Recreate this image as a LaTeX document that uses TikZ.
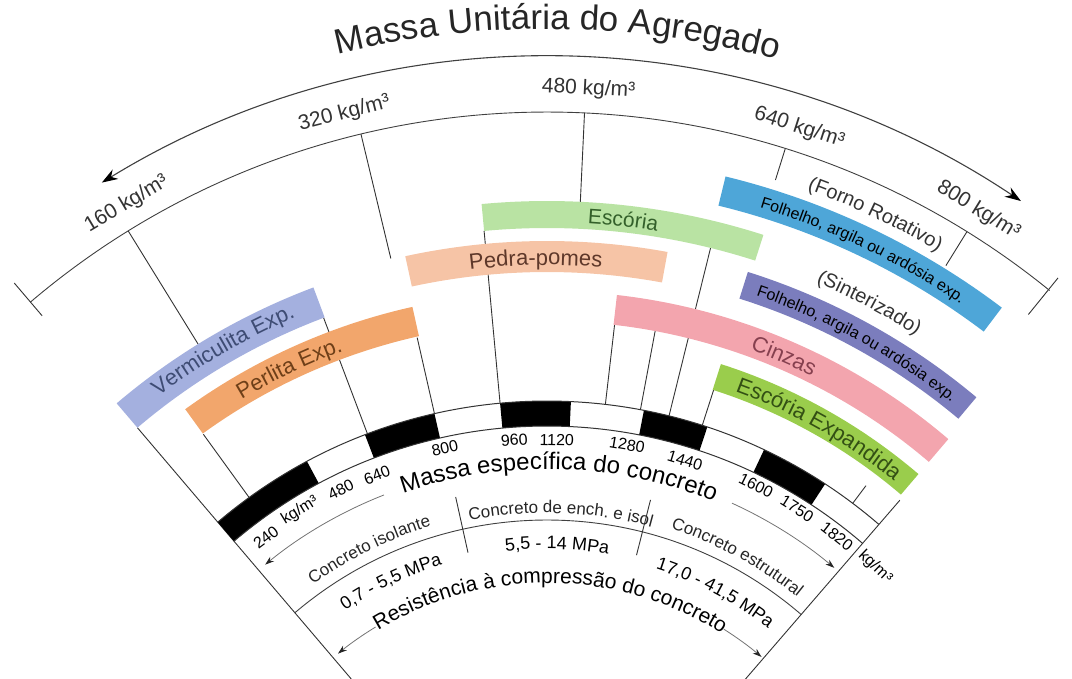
\documentclass[tikz,border=0pt]{standalone}
\usepackage{fontspec}
\setmainfont{Liberation Sans}
\usetikzlibrary{decorations.text,arrows.meta}

\definecolor{cverm}{HTML}{A4B0DF}
\definecolor{cperl}{HTML}{F2A66C}
\definecolor{cpedra}{HTML}{F6C4A6}
\definecolor{cesc}{HTML}{B9E3A3}
\definecolor{cforno}{HTML}{4EA6D8}
\definecolor{csint}{HTML}{7B7DBD}
\definecolor{ccinza}{HTML}{F3A5AE}
\definecolor{cescexp}{HTML}{9ACD4C}
\definecolor{tverm}{HTML}{3E4C74}
\definecolor{tperl}{HTML}{6E3F18}
\definecolor{tpedra}{HTML}{5E382A}
\definecolor{tesc}{HTML}{33602A}
\definecolor{tcinza}{HTML}{86404F}
\definecolor{tescexp}{HTML}{335014}

% 色付きの帯 (角度1, 角度2, 内半径, 外半径, 色)
\newcommand{\faixa}[5]{%
  \fill[#5] (#1:#3) arc[start angle=#1, end angle=#2, radius=#3]
    -- (#2:#4) arc[start angle=#2, end angle=#1, radius=#4] -- cycle;}
% 円弧に沿った文字 (中心角, 半径, 書式, 色, 文字)
\newcommand{\arctexto}[5]{%
  \path[decorate, decoration={text along path, text align=center,
      text color=#4, text={|#3|#5}}]
    ({#1+40}:#2) arc[start angle={#1+40}, end angle={#1-40}, radius=#2];}

\begin{document}
\begin{tikzpicture}[x=1pt, y=1pt,
  >={Stealth[length=9pt,width=6pt,color=black!85]},
  guia/.style={line width=0.9pt, black!80},
  arco/.style={line width=0.9pt, black!75},
  seta/.style={line width=0.8pt, black!55},
  dens/.style={font=\fontsize{16}{16}\selectfont, inner sep=0pt},
  unid/.style={font=\fontsize{21}{21}\selectfont, black!80, inner sep=0pt}]
  \useasboundingbox (-547,230) rectangle (525,909);

  % 放射状の線
  \foreach \a/\ri/\ro in {130.4/302/632, 125.9/508/586, 121.7/664/797,
      110.7/508/632, 103.5/669/797, 102.8/508/586, 95.3/508/681,
      87.3/708/797, 83.4/508/588, 79.4/508/588, 76.1/508/681,
      72.6/764/797, 72.2/508/545, 58.2/757/797, 53/508/530,
      49.2/302/540, 130.4/779/822, 51/765/812} {
    \draw[guia] (\a:\ri) -- (\a:\ro);
  }

  % 単位容積質量の目盛り (上の帯)
  \draw[line width=1.1pt, black!75, <->, >={Stealth[length=16pt,width=11pt,color=black]}]
    (121.5:852) arc[start angle=121.5, end angle=56.2, radius=852];
  \draw[arco] (130.4:797) arc[start angle=130.4, end angle=50.9, radius=797];
  \foreach \v/\a in {160/120.8, 320/104.3, 480/87.1, 640/72.1, 800/58.3} {
    \node[unid, rotate=\a-90] (u\v) at (\a:821) {\v\ kg/m³};
  }
  \arctexto{89.3}{880}{\fontsize{35}{35}\selectfont}{black!85}{Massa Unitária do Agregado}

  % 骨材の帯
  \faixa{130.4}{110.6}{632}{664}{cverm}
  \faixa{125.9}{102.6}{587}{617}{cperl}
  \faixa{102.25}{79.6}{637}{668}{cpedra}
  \faixa{95.3}{72.2}{681}{708}{cesc}
  \faixa{76.3}{52.9}{724}{754}{cforno}
  \faixa{72.5}{50}{640}{668}{csint}
  \faixa{83.5}{49.5}{588}{618}{ccinza}
  \faixa{72.3}{49.5}{545}{572}{cescexp}
  \arctexto{120.1}{643}{\fontsize{22}{22}\selectfont}{tverm}{Vermiculita Exp.}
  \arctexto{115.5}{594}{\fontsize{22}{22}\selectfont}{tperl}{Perlita Exp.}
  \arctexto{91}{644}{\fontsize{22}{22}\selectfont}{tpedra}{Pedra-pomes}
  \arctexto{83.7}{687}{\fontsize{21}{21}\selectfont}{tesc}{Escória}
  \arctexto{66.8}{595}{\fontsize{22}{22}\selectfont}{tcinza}{Cinzas}
  \arctexto{60.5}{551}{\fontsize{22}{22}\selectfont}{tescexp}{Escória Expandida}
  \arctexto{64.4}{733}{\fontsize{16}{16}\selectfont}{black}{Folhelho, argila ou ardósia exp.}
  \arctexto{61.3}{648}{\fontsize{16}{16}\selectfont}{black}{Folhelho, argila ou ardósia exp.}
  \arctexto{64.7}{765}{\fontsize{20}{20}\selectfont}{black!80}{(Forno Rotativo)}
  \arctexto{62}{682}{\fontsize{20}{20}\selectfont}{black!80}{(Sinterizado)}

  % 密度の帯 (黒い区間)
  \foreach \a/\b in {130.4/118.2, 111/102.8, 95.3/87.3, 79/71.6, 64.7/56.8} {
    \faixa{\a}{\b}{483}{508}{black}
  }
  \draw[line width=1pt, black!80] (130.4:508) arc[start angle=130.4, end angle=49.2, radius=508];
  \draw[line width=1pt, black!80] (130.4:483) arc[start angle=130.4, end angle=49.2, radius=483];
  \foreach \v/\a/\r in {240/127.1/466, 480/116.2/467, 640/111.4/466,
      800/102.5/472, 960/94/470, 1120/88.8/469, 1280/80.2/471,
      1440/72.9/469, 1600/63.7/472, 1750/58/472, 1820/52.1/472} {
    \node[dens, rotate=\a-90] (d\v) at (\a:\r) {\v};
  }
  \node[dens, rotate=31.8] (dkgA) at (121.8:469) {kg/m³};
  \node[dens, rotate=-43.8] (dkgB) at (46.2:474) {kg/m³};

  % 密度の矢印と文字
  \arctexto{88.4}{440}{\fontsize{24}{24}\selectfont}{black}{Massa específica do concreto}
  \draw[seta, <-] (129.3:445) arc[start angle=129.3, end angle=111.5, radius=445];
  \draw[seta, ->] (65.5:446) arc[start angle=65.5, end angle=49.9, radius=446];

  % コンクリートの種類
  \draw[arco] (130.4:389) arc[start angle=130.4, end angle=49.2, radius=389];
  \draw[guia] (102.5:365) -- (102.5:422);
  \draw[guia] (75.8:365) -- (75.8:422);
  \arctexto{116.3}{400}{\fontsize{17}{17}\selectfont}{black!85}{Concreto isolante}
  \arctexto{88}{396}{\fontsize{17}{17}\selectfont}{black!85}{Concreto de ench. e isol}
  \arctexto{61.6}{400}{\fontsize{17}{17}\selectfont}{black!85}{Concreto estrutural}

  % 圧縮強度
  \arctexto{115.5}{360}{\fontsize{18}{18}\selectfont}{black}{0,7 - 5,5 MPa}
  \arctexto{88.4}{360}{\fontsize{18}{18}\selectfont}{black}{5,5 - 14 MPa}
  \arctexto{62}{357}{\fontsize{18}{18}\selectfont}{black}{17,0 - 41,5 MPa}
  \arctexto{89.4}{326}{\fontsize{21}{21}\selectfont}{black}{Resistência à compressão do concreto}
  \draw[seta, <-] (129.3:330) arc[start angle=129.3, end angle=121.3, radius=330];
  \draw[seta, ->] (57.7:331) arc[start angle=57.7, end angle=49.6, radius=331];
\end{tikzpicture}
\end{document}
